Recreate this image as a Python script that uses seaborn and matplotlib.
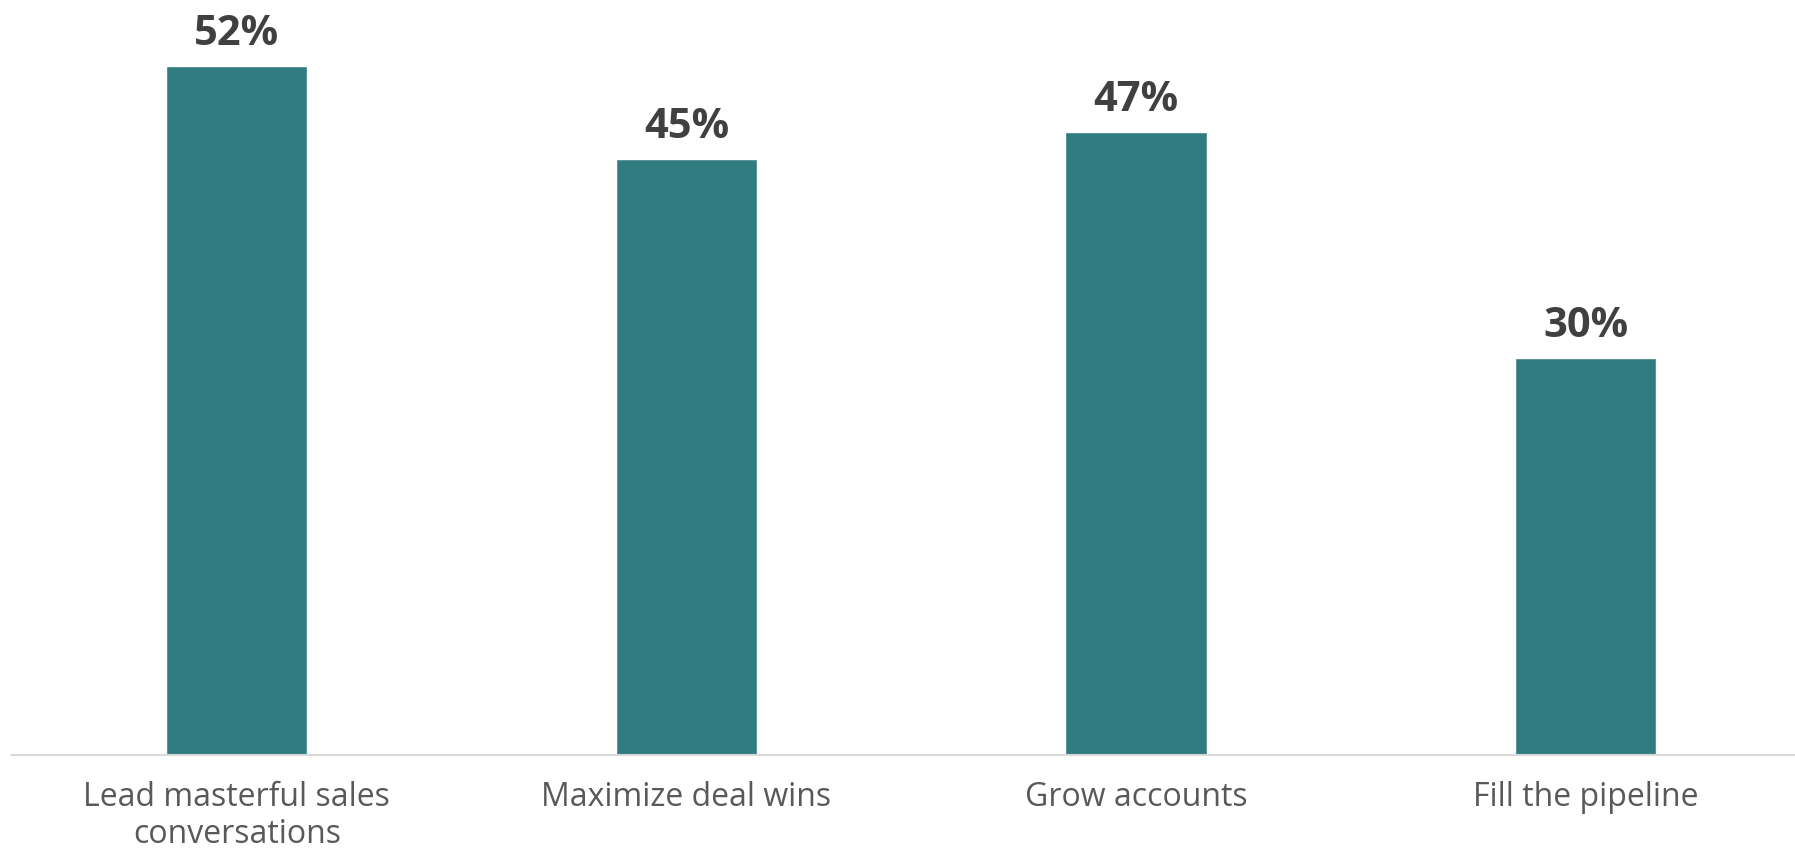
import matplotlib
matplotlib.use("Agg")
import matplotlib.pyplot as plt
import seaborn as sns
import pandas as pd

categories = ["Lead masterful sales\nconversations", "Maximize deal wins", "Grow accounts", "Fill the pipeline"]
values = [52, 45, 47, 30]
value_labels = ["52%", "45%", "47%", "30%"]

sns.set_theme(style="white")
plt.rcParams['font.family'] = ['Open Sans', 'DejaVu Sans']

df = pd.DataFrame({"cat": categories, "val": values})

fig = plt.figure(figsize=(17.95, 8.51), dpi=100)
ax = fig.add_axes([12/1795, (851-755)/851, (1795-12)/1795, 755/851])
sns.barplot(data=df, x="cat", y="val", color="#317C81", width=0.314, ax=ax, saturation=1)
ax.set_xlim(-0.5, 3.466)
ax.set_ylim(0, 57)
for p, lab in zip(ax.patches, value_labels):
    ax.annotate(lab, (p.get_x() + p.get_width()/2, p.get_height()),
                xytext=(0, 8), textcoords="offset points", ha="center", va="bottom",
                fontsize=30, fontweight="bold", color="#404040")
ax.set_xlabel("")
ax.set_ylabel("")
ax.set_yticks([])
for s in ["top", "right", "left"]:
    ax.spines[s].set_visible(False)
ax.spines["bottom"].set_color("#D9D9D9")
ax.spines["bottom"].set_linewidth(1.5)
ax.tick_params(axis="x", length=0, pad=19, labelsize=23, labelcolor="#595959")
for t in ax.get_xticklabels():
    t.set_linespacing(1.15)
fig.savefig("out.png", dpi=100, facecolor="white")
